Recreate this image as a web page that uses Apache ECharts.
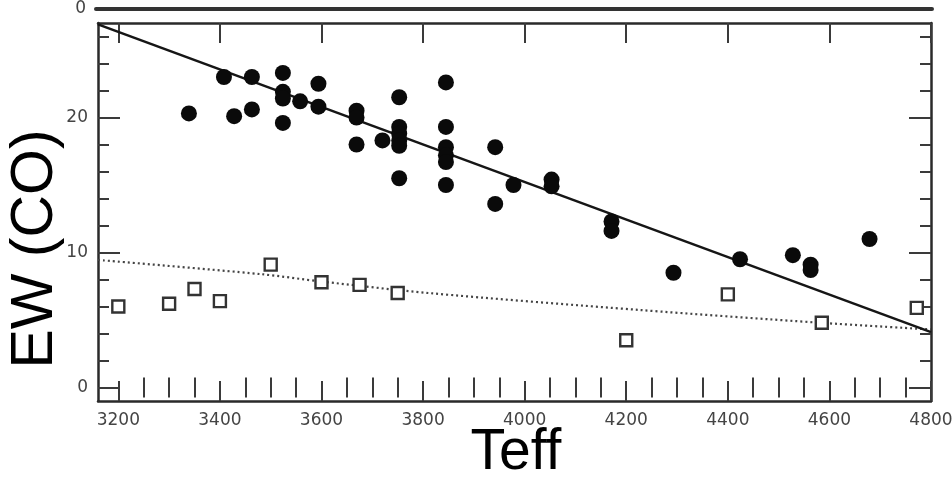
<!DOCTYPE html>
<html>
<head>
<meta charset="utf-8">
<script src="https://cdn.jsdelivr.net/npm/echarts@6/dist/echarts.min.js"></script>
<style>
  html, body { margin: 0; padding: 0; background: #fff; }
  #wrap { position: relative; width: 952px; height: 478px; overflow: hidden; }
  #plot, #titles { position: absolute; left: 0; top: 0; width: 952px; height: 478px; }
  #plot { filter: blur(0.7px); }
</style>
</head>
<body>
<div id="wrap">
  <div id="plot"></div>
  <div id="titles"></div>
</div>
<script>
// Giants (filled circles): effective temperature and CO equivalent width
const giantTeff = [3339, 3408, 3428, 3463, 3463, 3524, 3524, 3524, 3524, 3558, 3594, 3594,
                   3669, 3669, 3669, 3720, 3753, 3753, 3753, 3753, 3753, 3753,
                   3845, 3845, 3845, 3845, 3845, 3845, 3942, 3942, 3978, 4053, 4053,
                   4171, 4171, 4293, 4424, 4528, 4563, 4563, 4679];
const giantEW   = [20.3, 23.0, 20.1, 23.0, 20.6, 23.3, 21.9, 21.4, 19.6, 21.2, 22.5, 20.8,
                   20.5, 20.0, 18.0, 18.3, 21.5, 19.3, 18.8, 18.3, 17.9, 15.5,
                   22.6, 19.3, 17.8, 17.2, 16.7, 15.0, 17.8, 13.6, 15.0, 15.4, 14.9,
                   12.3, 11.6, 8.5, 9.5, 9.8, 9.1, 8.7, 11.0];

// Dwarfs (open squares)
const dwarfTeff = [3200, 3300, 3350, 3400, 3500, 3600, 3675, 3750, 4200, 4400, 4585, 4772];
const dwarfEW   = [6.0, 6.2, 7.3, 6.4, 9.1, 7.8, 7.6, 7.0, 3.5, 6.9, 4.8, 5.9];

// Fit through the giants (solid) and the dwarfs (dotted)
const giantFitTeff = [3160, 4800];
const giantFitEW   = [26.9, 4.1];
const dwarfFitTeff = [3160, 3480, 3600, 3810, 4227, 4580, 4800];
const dwarfFitEW   = [9.45, 8.4, 7.85, 7.0, 5.74, 4.8, 4.3];

// Axis ticks
const teffMajor = [3200, 3400, 3600, 3800, 4000, 4200, 4400, 4600, 4800];
const ewMajor = [0, 10, 20];
const ewMinor = [2, 4, 6, 8, 12, 14, 16, 18, 22, 24, 26];
const teffMinor = [];
for (let t = 3250; t < 4800; t += 50) if (t % 200 !== 0) teffMinor.push(t);

const pairs = (xs, ys) => xs.map((x, i) => [x, ys[i]]);
const plain = v => String(v);

const inkAxis = '#2a2a2a';
const inkTick = '#3a3a3a';
const tickFont = { fontFamily: 'DejaVu Sans', fontSize: 17, color: '#444', formatter: plain };

function xAxisDef(pos, ticks, len, opts) {
  return Object.assign({
    type: 'value', gridIndex: 0, position: pos, min: 3160, max: 4800,
    axisLine: { show: false },
    axisTick: { show: true, inside: true, length: len, customValues: ticks,
                lineStyle: { color: inkTick, width: 2 } },
    axisLabel: { show: false },
    splitLine: { show: false }
  }, opts || {});
}
function yAxisDef(pos, ticks, len, opts) {
  return Object.assign({
    type: 'value', gridIndex: 0, position: pos, min: -1, max: 27,
    axisLine: { show: false },
    axisTick: { show: true, inside: true, length: len, customValues: ticks,
                lineStyle: { color: inkTick, width: 2 } },
    axisLabel: { show: false },
    splitLine: { show: false }
  }, opts || {});
}

const frameLine = { show: true, onZero: false, lineStyle: { color: inkAxis, width: 2.5 } };

const plot = echarts.init(document.getElementById('plot'), null, { renderer: 'canvas' });
plot.setOption({
  animation: false,
  backgroundColor: '#fff',
  grid: [
    { left: 98, top: 23, width: 833, height: 378, outerBoundsMode: 'none', containLabel: false },
    { left: 96, top: -200, width: 836, height: 209, outerBoundsMode: 'none', containLabel: false }
  ],
  xAxis: [
    xAxisDef('bottom', teffMajor, 20, {
      axisLine: frameLine,
      axisLabel: Object.assign({ show: true, customValues: teffMajor, margin: 11 }, tickFont)
    }),
    xAxisDef('bottom', teffMinor, 10),
    xAxisDef('top', teffMajor, 20, { axisLine: frameLine }),
    xAxisDef('top', teffMinor, 10),
    {
      type: 'value', gridIndex: 1, position: 'bottom', min: 3160, max: 4800,
      axisLine: { show: true, onZero: false, lineStyle: { color: '#333', width: 4 } },
      axisTick: { show: false }, axisLabel: { show: false }, splitLine: { show: false }
    }
  ],
  yAxis: [
    yAxisDef('left', ewMajor, 22, {
      axisLine: frameLine,
      axisLabel: Object.assign({ show: true, customValues: ewMajor, margin: 10 }, tickFont)
    }),
    yAxisDef('left', ewMinor, 11),
    yAxisDef('right', ewMajor, 22, { axisLine: frameLine }),
    yAxisDef('right', ewMinor, 11),
    {
      type: 'value', gridIndex: 1, position: 'left', min: 0, max: 10,
      axisLine: { show: false }, axisTick: { show: false }, splitLine: { show: false },
      axisLabel: Object.assign({ show: true, customValues: [0], margin: 10 }, tickFont)
    }
  ],
  series: [
    {
      type: 'line', xAxisIndex: 0, yAxisIndex: 0,
      data: pairs(dwarfFitTeff, dwarfFitEW), smooth: 0.3,
      symbol: 'none',
      lineStyle: { color: '#444', width: 2.2, type: [2, 3] },
      z: 2
    },
    {
      type: 'line', xAxisIndex: 0, yAxisIndex: 0,
      data: pairs(giantFitTeff, giantFitEW),
      symbol: 'none',
      lineStyle: { color: '#161616', width: 2.6 },
      z: 2
    },
    {
      type: 'scatter', xAxisIndex: 0, yAxisIndex: 0,
      data: pairs(dwarfTeff, dwarfEW),
      symbol: 'rect', symbolSize: 12,
      itemStyle: { color: '#fff', borderColor: '#333', borderWidth: 2.4, opacity: 1 },
      z: 3
    },
    {
      type: 'scatter', xAxisIndex: 0, yAxisIndex: 0,
      data: pairs(giantTeff, giantEW),
      symbol: 'circle', symbolSize: 16,
      itemStyle: { color: '#0a0a0a', opacity: 1 },
      z: 4
    }
  ]
});

// Axis titles set in a crisp face over the plot
const titles = echarts.init(document.getElementById('titles'), null, { renderer: 'canvas' });
titles.setOption({
  animation: false,
  graphic: [
    {
      type: 'text', x: 36, y: 249, rotation: Math.PI / 2,
      style: {
        text: 'EW (CO)', fill: '#000',
        font: '59px "Liberation Sans"',
        textAlign: 'center', textVerticalAlign: 'middle',
        align: 'center', verticalAlign: 'middle'
      }
    },
    {
      type: 'text', x: 516, y: 453,
      style: {
        text: 'Teff', fill: '#000',
        font: '57px "Liberation Sans"',
        textAlign: 'center', textVerticalAlign: 'middle',
        align: 'center', verticalAlign: 'middle'
      }
    }
  ]
});
</script>
</body>
</html>
